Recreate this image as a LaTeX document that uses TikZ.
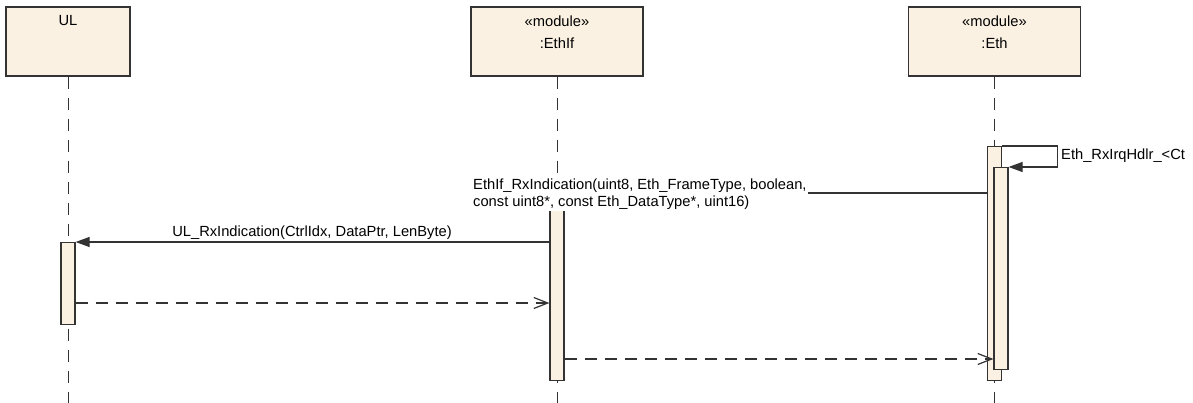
\documentclass[tikz,border=0pt]{standalone}
\usepackage{fontspec}
\setmainfont{Liberation Sans}
\usetikzlibrary{arrows.meta}
\definecolor{actfill}{RGB}{251,241,226}
\definecolor{linegray}{RGB}{51,51,51}

\begin{document}
\begin{tikzpicture}[x=1pt,y=-1pt,font=\fontsize{14.7}{17}\selectfont,
  head/.style={draw=linegray,line width=1.3pt,fill=actfill,minimum width=172pt,minimum height=69pt,inner sep=0pt},
  act/.style={draw=linegray,line width=1.2pt,fill=actfill,minimum width=14pt,inner sep=0pt,anchor=north},
  txt/.style={inner sep=1pt},
  life/.style={draw=linegray,line width=1pt,dash pattern=on 12pt off 9pt},
  call/.style={draw=linegray,line width=1.2pt,-{Triangle[length=14pt,width=10pt]}},
  ret/.style={draw=linegray,line width=1.2pt,dash pattern=on 12pt off 8pt,-{Straight Barb[length=14pt,width=11pt]}}]
\useasboundingbox (0,0) rectangle (1193,403);
% lifeline heads
\node[head,minimum width=124pt] (ul) at (68,41.5) {};
\node[txt] (ulname) at (68,21) {UL};
\node[head] (ethif) at (557,41.5) {};
\node[txt] (ethifster) at (557,21) {«module»};
\node[txt] (ethifname) at (557,43) {:EthIf};
\node[head] (eth) at (994.5,41.5) {};
\node[txt] (ethster) at (994.5,21) {«module»};
\node[txt] (ethname) at (994.5,43) {:Eth};
% lifelines
\draw[life] (ul.south) -- (ul.south |- 0,403);
\draw[life] (ethif.south) -- (ethif.south |- 0,403);
\draw[life] (eth.south) -- (eth.south |- 0,403);
% activations
\node[act,minimum height=82pt] (ulact) at (68,242) {};
\node[act,minimum height=172pt] (ethifact) at (557,208) {};
\node[act,minimum height=234pt] (ethout) at (994.5,146) {};
\node[act,minimum height=202pt] (ethin) at (1001,167) {};
% messages
\draw[call] (ethout.north east) -- ++(55,0) |- (ethin.north east);
\node[txt,anchor=west] (irqlbl) at (1060,156) {Eth\_RxIrqHdlr\_<Ct};
\draw[call] (ethout.west |- 0,193) -- (ethifact.east |- 0,193);
\node[txt,anchor=west,align=left,fill=white] (rxlbl) at (472,194.5) {EthIf\_RxIndication(uint8, Eth\_FrameType, boolean,\\const uint8*, const Eth\_DataType*, uint16)};
\draw[call] (ethifact.west |- 0,242) -- (ulact.north east);
\node[txt,anchor=south] (ullbl) at (312,241) {UL\_RxIndication(CtrlIdx, DataPtr, LenByte)};
\draw[ret] (ulact.east |- 0,303) -- (ethifact.west |- 0,303);
\draw[ret] (ethifact.east |- 0,359) -- (ethin.west |- 0,359);
\end{tikzpicture}
\end{document}
